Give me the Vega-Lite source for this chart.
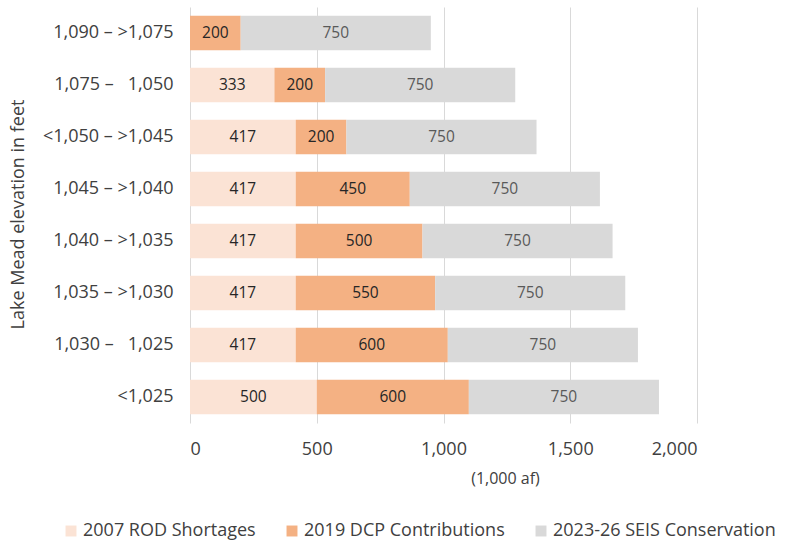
{
  "$schema": "https://vega.github.io/schema/vega-lite/v6.json",
  "width": 507,
  "height": 416,
  "autosize": {"type": "none"},
  "padding": {"left": 190, "top": 7, "right": 96, "bottom": 120},
  "config": {
    "font": "Open Sans",
    "view": {"stroke": null},
    "axis": {"labelColor": "#404040", "titleColor": "#404040", "titleFontWeight": "normal", "domain": false, "ticks": false}
  },
  "data": {
    "values": [
      {"elevation": "1,090 – >1,075", "series": "2019 DCP Contributions", "value": 200},
      {"elevation": "1,090 – >1,075", "series": "2023-26 SEIS Conservation", "value": 750},
      {"elevation": "1,075 –\u00a0\u00a0 1,050", "series": "2007 ROD Shortages", "value": 333},
      {"elevation": "1,075 –\u00a0\u00a0 1,050", "series": "2019 DCP Contributions", "value": 200},
      {"elevation": "1,075 –\u00a0\u00a0 1,050", "series": "2023-26 SEIS Conservation", "value": 750},
      {"elevation": "<1,050 – >1,045", "series": "2007 ROD Shortages", "value": 417},
      {"elevation": "<1,050 – >1,045", "series": "2019 DCP Contributions", "value": 200},
      {"elevation": "<1,050 – >1,045", "series": "2023-26 SEIS Conservation", "value": 750},
      {"elevation": "1,045 – >1,040", "series": "2007 ROD Shortages", "value": 417},
      {"elevation": "1,045 – >1,040", "series": "2019 DCP Contributions", "value": 450},
      {"elevation": "1,045 – >1,040", "series": "2023-26 SEIS Conservation", "value": 750},
      {"elevation": "1,040 – >1,035", "series": "2007 ROD Shortages", "value": 417},
      {"elevation": "1,040 – >1,035", "series": "2019 DCP Contributions", "value": 500},
      {"elevation": "1,040 – >1,035", "series": "2023-26 SEIS Conservation", "value": 750},
      {"elevation": "1,035 – >1,030", "series": "2007 ROD Shortages", "value": 417},
      {"elevation": "1,035 – >1,030", "series": "2019 DCP Contributions", "value": 550},
      {"elevation": "1,035 – >1,030", "series": "2023-26 SEIS Conservation", "value": 750},
      {"elevation": "1,030 –\u00a0\u00a0 1,025", "series": "2007 ROD Shortages", "value": 417},
      {"elevation": "1,030 –\u00a0\u00a0 1,025", "series": "2019 DCP Contributions", "value": 600},
      {"elevation": "1,030 –\u00a0\u00a0 1,025", "series": "2023-26 SEIS Conservation", "value": 750},
      {"elevation": "<1,025", "series": "2007 ROD Shortages", "value": 500},
      {"elevation": "<1,025", "series": "2019 DCP Contributions", "value": 600},
      {"elevation": "<1,025", "series": "2023-26 SEIS Conservation", "value": 750}
    ]
  },
  "encoding": {
    "y": {
      "field": "elevation",
      "type": "nominal",
      "sort": null,
      "scale": {"paddingInner": 0.34, "paddingOuter": 0.17},
      "axis": {
        "title": "Lake Mead elevation in feet",
        "labelFontSize": 18,
        "labelPadding": 17,
        "titleFontSize": 18,
        "titleX": -172,
        "titleY": 207,
        "titleAngle": 270,
        "titleAlign": "center",
        "titleBaseline": "middle",
        "grid": false
      }
    }
  },
  "layer": [
    {
      "mark": {"type": "bar"},
      "encoding": {
        "x": {
          "field": "value",
          "type": "quantitative",
          "stack": "zero",
          "scale": {"domain": [0, 2000]},
          "axis": {
            "title": "(1,000 af)",
            "values": [0, 500, 1000, 1500, 2000],
            "labelFontSize": 18,
            "labelPadding": 17,
            "titleFontSize": 16,
            "titleX": 315,
            "titleY": 47,
            "titleAlign": "center",
            "titleBaseline": "top",
            "grid": true,
            "gridColor": "#d9d9d9",
            "gridWidth": 1
          }
        },
        "color": {
          "field": "series",
          "type": "nominal",
          "scale": {
            "domain": ["2007 ROD Shortages", "2019 DCP Contributions", "2023-26 SEIS Conservation"],
            "range": ["#fbe3d5", "#f4b183", "#d9d9d9"]
          },
          "legend": {
            "title": null,
            "orient": "none",
            "direction": "horizontal",
            "legendX": -128,
            "legendY": 515,
            "symbolType": "square",
            "symbolSize": 120,
            "symbolStrokeWidth": 0,
            "labelFontSize": 18,
            "labelColor": "#404040",
            "labelOffset": 3,
            "columnPadding": 27,
            "labelLimit": 300
          }
        },
        "order": {"field": "series", "type": "nominal"}
      }
    },
    {
      "mark": {"type": "text", "fontSize": 15.5, "baseline": "middle"},
      "encoding": {
        "x": {"field": "value", "type": "quantitative", "stack": "zero", "bandPosition": 0.5},
        "detail": {"field": "series"},
        "order": {"field": "series", "type": "nominal"},
        "text": {"field": "value", "type": "quantitative"},
        "color": {
          "condition": {"test": "datum.series === '2023-26 SEIS Conservation'", "value": "#595959"},
          "value": "#262626"
        }
      }
    }
  ]
}
